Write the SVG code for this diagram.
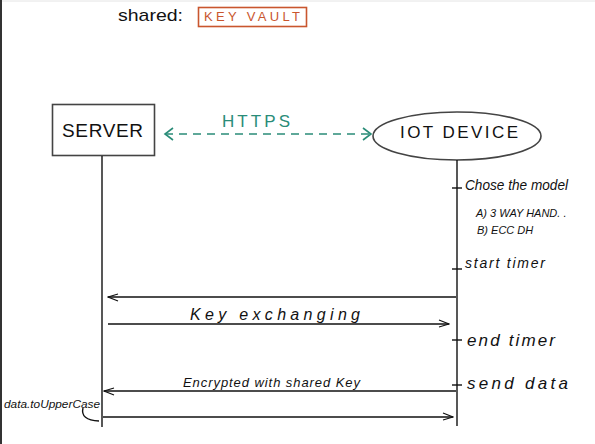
<svg xmlns="http://www.w3.org/2000/svg" width="595" height="444" viewBox="0 0 595 444">
<style>
.t{font-family:"Liberation Sans",Arial,sans-serif;fill:#111}
.h{font-family:"Liberation Sans",Arial,sans-serif;font-style:italic;fill:#111}
.ln{stroke:#111;stroke-width:1.4;fill:none}
.box{fill:#fff;stroke:#444;stroke-width:1.6}
.tick{stroke:#111;stroke-width:1.4}
</style>
<defs>
<marker id="open" viewBox="0 0 12 10" refX="11" refY="5" markerWidth="12" markerHeight="10" markerUnits="userSpaceOnUse" orient="auto-start-reverse">
<path d="M1,1 L11,5 L1,8" fill="none" stroke="#111" stroke-width="1.2"/>
</marker>
<marker id="green" viewBox="0 0 12 14" refX="10" refY="7" markerWidth="12" markerHeight="14" markerUnits="userSpaceOnUse" orient="auto-start-reverse">
<path d="M2,1 L10,7 L2,13" fill="none" stroke="#2a8c78" stroke-width="1.6"/>
</marker>
</defs>
<rect width="595" height="444" fill="#fff"/>
<line x1="0" y1="1" x2="595" y2="1" stroke="#e4e4e4" stroke-width="1"/>
<line x1="1" y1="0" x2="1" y2="444" stroke="#333" stroke-width="2"/>

<g id="shared">
<text class="t" x="118" y="21" font-size="17" textLength="65" lengthAdjust="spacingAndGlyphs">shared:</text>
<rect x="198.5" y="7.5" width="108" height="19" fill="none" stroke="#c9562e" stroke-width="1.6"/>
<text class="t" x="204" y="21" font-size="13" style="fill:#c9562e" textLength="96" lengthAdjust="spacing">KEY VAULT</text>
</g>

<g id="server">
<rect class="box" x="52.5" y="104.5" width="102" height="51"/>
<text class="t" x="62" y="137" font-size="19" textLength="81" lengthAdjust="spacing">SERVER</text>
</g>

<g id="iot-device">
<ellipse cx="457" cy="136" rx="84" ry="24" fill="#fff" stroke="#444" stroke-width="1.6"/>
<text class="t" x="400" y="138" font-size="17" textLength="118" lengthAdjust="spacing">IOT DEVICE</text>
</g>

<g id="connectors">
<line class="ln" x1="102" y1="156" x2="102" y2="427"/>
<line class="ln" x1="457" y1="160" x2="457" y2="426"/>
<line x1="165" y1="134" x2="371" y2="134" stroke="#2a8c78" stroke-width="1.5" stroke-dasharray="8,6" marker-start="url(#green)" marker-end="url(#green)"/>
<line class="ln" x1="456" y1="297" x2="108" y2="297" marker-end="url(#open)"/>
<line class="ln" x1="108" y1="324" x2="449" y2="324" marker-end="url(#open)"/>
<line class="ln" x1="456" y1="391" x2="104" y2="391" marker-end="url(#open)"/>
<line class="ln" x1="103" y1="417" x2="453" y2="417" marker-end="url(#open)"/>
<path class="ln" d="M83,408 Q80,420 99,421"/>
<line class="tick" x1="452" y1="188" x2="462" y2="188"/>
<line class="tick" x1="452" y1="269" x2="462" y2="269"/>
<line class="tick" x1="452" y1="340" x2="462" y2="340"/>
<line class="tick" x1="452" y1="385" x2="462" y2="385"/>
</g>

<g id="labels">
<text class="t" x="222" y="127" font-size="17" style="fill:#2a8c78" textLength="68" lengthAdjust="spacing">HTTPS</text>
<text class="h" x="190" y="320" font-size="16" textLength="170" lengthAdjust="spacing">Key     exchanging</text>
<text class="h" x="183" y="387" font-size="13" textLength="177" lengthAdjust="spacing">Encrypted with shared Key</text>
<text class="h" x="4" y="408" font-size="11" textLength="96" lengthAdjust="spacingAndGlyphs">data.toUpperCase</text>
<text class="h" x="465" y="190" font-size="14" textLength="103" lengthAdjust="spacingAndGlyphs">Chose the model</text>
<text class="h" x="476" y="217" font-size="11">A) 3 WAY HAND. .</text>
<text class="h" x="477" y="234" font-size="11">B) ECC DH</text>
<text class="h" x="465" y="268" font-size="14" textLength="80" lengthAdjust="spacing">start timer</text>
<text class="h" x="467" y="346" font-size="17" textLength="88" lengthAdjust="spacing">end timer</text>
<text class="h" x="467" y="389" font-size="17" textLength="101" lengthAdjust="spacing">send  data</text>
</g>
</svg>
